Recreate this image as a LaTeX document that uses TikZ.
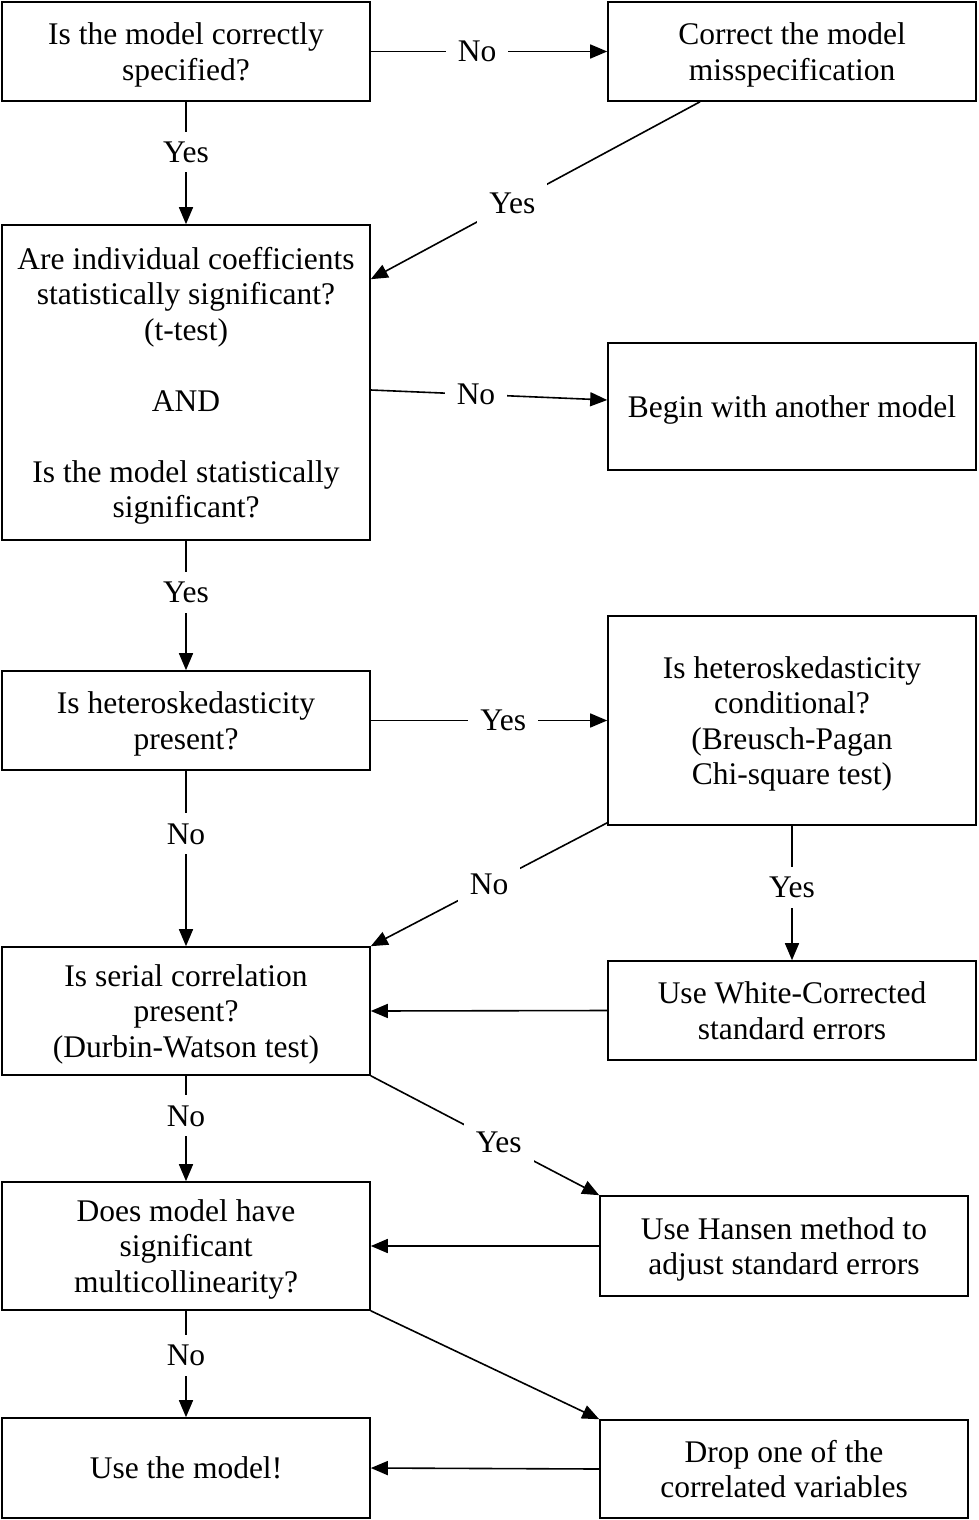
\documentclass[tikz,border=0pt]{standalone}
\usepackage{fontspec}
\setmainfont{Liberation Serif}
\usetikzlibrary{arrows.meta}
\begin{document}
\begin{tikzpicture}[x=1pt,y=-1pt,
  box/.style={draw, line width=1.6pt, minimum width=368pt, align=center, inner sep=0pt,
    text depth=0pt, font=\fontsize{31.5}{35.5}\selectfont},
  lbl/.style={fill=white, inner xsep=12pt, inner ysep=10pt, font=\fontsize{31.5}{35.5}\selectfont},
  conn/.style={line width=1.6pt, -{Triangle[length=17pt,width=14pt]}}]
\useasboundingbox (0,0) rectangle (978,1520);
\node[box, minimum height=99pt] (b1) at (186,51.5) {Is the model correctly\\specified?};
\node[box, minimum height=99pt] (b2) at (792,51.5) {Correct the model\\misspecification};
\node[box, minimum height=315pt] (b3) at (186,382.5) {Are individual coefficients\\statistically significant?\\(t-test)\\[35.5pt]AND\\[35.5pt]Is the model statistically\\significant?};
\node[box, minimum height=127pt] (b4) at (792,406.5) {Begin with another model};
\node[box, minimum height=99pt] (b5) at (186,720.5) {Is heteroskedasticity\\present?};
\node[box, minimum height=209pt] (b6) at (792,720.5) {Is heteroskedasticity\\conditional?\\(Breusch-Pagan\\Chi-square test)};
\node[box, minimum height=128pt] (b7) at (186,1011) {Is serial correlation\\present?\\(Durbin-Watson test)};
\node[box, minimum height=99pt] (b8) at (792,1010.5) {Use White-Corrected\\standard errors};
\node[box, minimum height=128pt] (b9) at (186,1246) {Does model have\\significant\\multicollinearity?};
\node[box, minimum height=100pt] (b10) at (784,1246) {Use Hansen method to\\adjust standard errors};
\node[box, minimum height=100pt] (b11) at (186,1468) {Use the model!};
\node[box, minimum height=98pt] (b12) at (784,1469) {Drop one of the\\correlated variables};

\draw[conn] (b1.east) -- node[lbl, pos=0.45] {No} (b2.west);
\draw[conn] (b1.south) -- node[lbl, pos=0.41] {Yes} (b3.north);
\draw[conn] ([xshift=-92pt]b2.south) -- node[lbl, pos=0.57] {Yes} ([yshift=-55pt]b3.north east);
\draw[conn] ([yshift=-7.5pt]b3.east) -- node[lbl, pos=0.445] {No} ([yshift=6.5pt]b4.west);
\draw[conn] (b3.south) -- node[lbl, pos=0.40] {Yes} (b5.north);
\draw[conn] (b5.east) -- node[lbl, pos=0.56] {Yes} (b6.west);
\draw[conn] (b5.south) -- node[lbl, pos=0.36] {No} (b7.north);
\draw[conn] ([yshift=3pt]b6.south west) -- node[lbl, pos=0.5] {No} (b7.north east);
\draw[conn] (b6.south) -- node[lbl, pos=0.46] {Yes} (b8.north);
\draw[conn] (b8.west) -- (b7.east);
\draw[conn] (b7.south) -- node[lbl, pos=0.38] {No} (b9.north);
\draw[conn] (b7.south east) -- node[lbl, pos=0.56] {Yes} (b10.north west);
\draw[conn] (b10.west) -- (b9.east);
\draw[conn] (b9.south) -- node[lbl, pos=0.42] {No} (b11.north);
\draw[conn] (b9.south east) -- (b12.north west);
\draw[conn] (b12.west) -- (b11.east);
\end{tikzpicture}
\end{document}
